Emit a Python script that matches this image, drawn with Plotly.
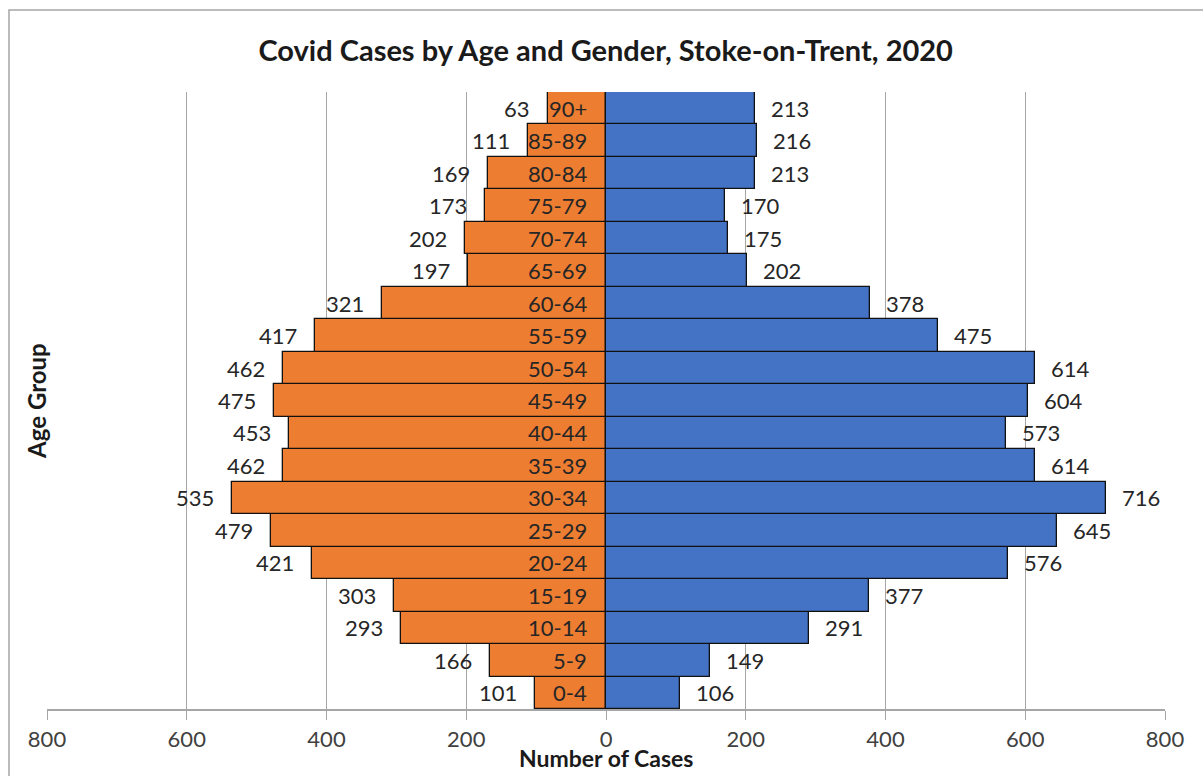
import plotly.graph_objects as go

age_groups = ["0-4", "5-9", "10-14", "15-19", "20-24", "25-29", "30-34", "35-39",
              "40-44", "45-49", "50-54", "55-59", "60-64", "65-69", "70-74", "75-79",
              "80-84", "85-89", "90+"]
# bar lengths (the 90+ female bar is drawn longer than its label)
female_bars = [101, 166, 293, 303, 421, 479, 535, 462, 453, 475, 462, 417, 321, 197, 202, 173, 169, 111, 83]
female_labels = [101, 166, 293, 303, 421, 479, 535, 462, 453, 475, 462, 417, 321, 197, 202, 173, 169, 111, 63]
male = [106, 149, 291, 377, 576, 645, 716, 614, 573, 604, 614, 475, 378, 202, 175, 170, 213, 216, 213]
tick_vals = [-800, -600, -400, -200, 0, 200, 400, 600, 800]
tick_text = ["800", "600", "400", "200", "0", "200", "400", "600", "800"]

FONT = "Lato"
TXT = "#262626"
GRID = "#a6a6a6"

fig = go.Figure()
fig.add_trace(go.Bar(
    y=age_groups, x=[-v for v in female_bars], orientation="h", name="Female",
    marker=dict(color="#ED7D31", line=dict(color="#111111", width=1.3)),
    hoverinfo="skip"))
fig.add_trace(go.Bar(
    y=age_groups, x=male, orientation="h", name="Male",
    marker=dict(color="#4472C4", line=dict(color="#111111", width=1.3)),
    hoverinfo="skip"))

annotations = []
for cat, fb, fl, m in zip(age_groups, female_bars, female_labels, male):
    annotations.append(dict(x=-fb, y=cat, xref="x", yref="y", text=str(fl), showarrow=False,
                            xanchor="right", xshift=-16, font=dict(family=FONT, size=22, color=TXT)))
    annotations.append(dict(x=m, y=cat, xref="x", yref="y", text=str(m), showarrow=False,
                            xanchor="left", xshift=14, font=dict(family=FONT, size=22, color=TXT)))
    annotations.append(dict(x=0, y=cat, xref="x", yref="y", text=cat, showarrow=False,
                            xanchor="right", xshift=-17, font=dict(family=FONT, size=22, color=TXT)))

annotations.append(dict(x=0.5, y=-0.0794, xref="paper", yref="paper", text="<b>Number of Cases</b>",
                        showarrow=False, xanchor="center", yanchor="middle",
                        font=dict(family=FONT, size=23, color="#1a1a1a")))
annotations.append(dict(x=-0.0095, y=0.5, xref="paper", yref="paper", text="<b>Age Group</b>",
                        showarrow=False, xanchor="center", yanchor="middle", textangle=-90,
                        font=dict(family=FONT, size=24, color="#1a1a1a")))

fig.update_layout(
    width=1203, height=776,
    margin=dict(l=47, r=38, t=92, b=67),
    paper_bgcolor="white", plot_bgcolor="white",
    barmode="overlay", bargap=0,
    showlegend=False,
    title=dict(text="<b>Covid Cases by Age and Gender, Stoke-on-Trent, 2020</b>",
               x=0.5035, xanchor="center", y=0.935, yanchor="middle",
               font=dict(family=FONT, size=29, color="#1a1a1a")),
    xaxis=dict(range=[-800, 800], tickvals=tick_vals, ticktext=tick_text,
               showgrid=True, gridcolor=GRID, gridwidth=1.3,
               zeroline=True, zerolinecolor=GRID, zerolinewidth=1.3,
               showline=True, linecolor=GRID, linewidth=1.5,
               ticks="outside", ticklen=9, tickcolor=GRID, tickwidth=1.3,
               ticklabelstandoff=1,
               tickfont=dict(family=FONT, size=22, color="#404040"),
               fixedrange=True),
    yaxis=dict(categoryorder="array", categoryarray=age_groups, showticklabels=False,
               showgrid=False, zeroline=False, showline=False, ticks="",
               range=[-0.5, len(age_groups) - 0.5], fixedrange=True),
    annotations=annotations,
    shapes=[dict(type="rect", xref="paper", yref="paper",
                 x0=-0.034, x1=1.2, y0=-0.3, y1=1.1329,
                 line=dict(color=GRID, width=1.5), fillcolor="rgba(0,0,0,0)", layer="below")],
)

fig.write_html("out.html")
